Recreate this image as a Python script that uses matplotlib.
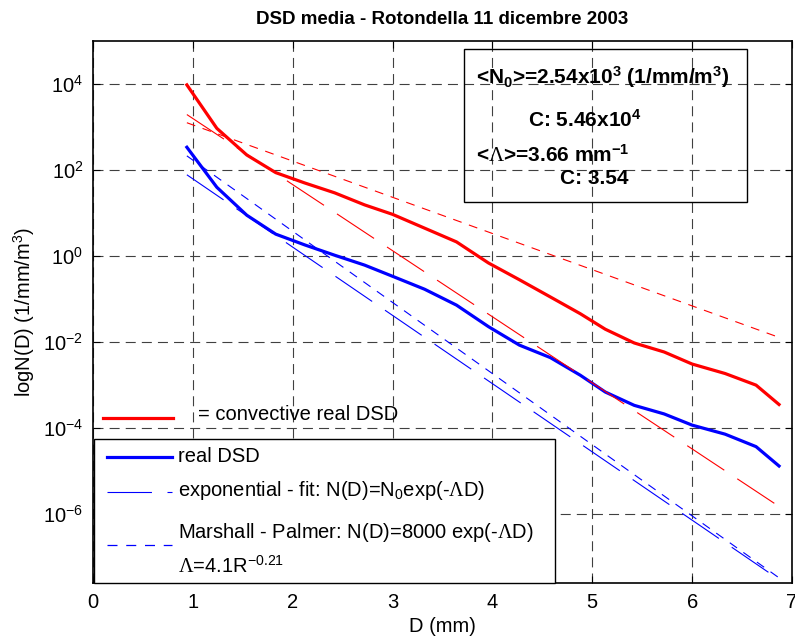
import numpy as np
import matplotlib
matplotlib.use('Agg')
import matplotlib.pyplot as plt
from matplotlib.lines import Line2D
from matplotlib.patches import Rectangle

plt.rcParams['font.family'] = ['Liberation Sans', 'DejaVu Sans']
plt.rcParams['mathtext.fontset'] = 'custom'
plt.rcParams['mathtext.rm'] = 'Liberation Sans'
plt.rcParams['mathtext.it'] = 'Liberation Sans:italic'
plt.rcParams['mathtext.bf'] = 'Liberation Sans:bold'
plt.rcParams['mathtext.cal'] = 'Liberation Serif'

# diameters of the classes (mm)
D = [0.94, 1.24, 1.54, 1.83, 2.12, 2.42, 2.72, 3.00, 3.32, 3.64, 3.96,
     4.27, 4.58, 4.88, 5.13, 5.42, 5.72, 6.00, 6.33, 6.64, 6.87]

# log10 N(D)
log_conv = [3.98, 2.97, 2.35, 1.94, 1.70, 1.47, 1.19, 0.97, 0.65, 0.33, -0.16,
            -0.55, -0.95, -1.34, -1.70, -2.02, -2.23, -2.51, -2.73, -3.00, -3.45]
log_mean = [2.53, 1.60, 0.95, 0.51, 0.26, 0.02, -0.21, -0.47, -0.77, -1.14, -1.64,
            -2.07, -2.36, -2.77, -3.16, -3.47, -3.67, -3.93, -4.14, -4.43, -4.88]

# end points of the straight fits (log10 N at first and last class)
D_fit = [0.94, 6.87]
log_fit_mean = [1.89, -7.52]
log_mp_mean = [2.33, -7.48]
log_fit_conv = [3.29, -5.82]
log_mp_conv = [3.10, -1.89]

conv = 10.0 ** np.array(log_conv)
mean = 10.0 ** np.array(log_mean)

W, H = 795, 641
fig = plt.figure(figsize=(W / 100, H / 100), dpi=100)
ax = fig.add_axes([93 / W, 1 - 583 / H, (792 - 93) / W, 542 / H])

def fx(px):
    return px / W

def fy(py):
    return 1 - py / H

fit_ls = (0, (40, 14))
mp_ls = (0, (8, 7))

ax.semilogy(D, conv, color='#ff0000', lw=2.3, solid_joinstyle='round')
ax.semilogy(D, mean, color='#0000ff', lw=2.3, solid_joinstyle='round')
ax.semilogy(D_fit, 10.0 ** np.array(log_fit_conv), color='#ff0000', lw=0.8, ls=fit_ls)
ax.semilogy(D_fit, 10.0 ** np.array(log_mp_conv), color='#ff0000', lw=0.8, ls=mp_ls)
ax.semilogy(D_fit, 10.0 ** np.array(log_fit_mean), color='#0000ff', lw=0.8, ls=fit_ls)
ax.semilogy(D_fit, 10.0 ** np.array(log_mp_mean), color='#0000ff', lw=0.8, ls=mp_ls)

ax.set_xlim(0, 7)
ax.set_ylim(10 ** -7.6, 1e5)
ax.set_xticks(range(0, 8))
ax.set_yticks([1e-6, 1e-4, 1e-2, 1e0, 1e2, 1e4])
ax.minorticks_off()
ax.tick_params(direction='in', length=5, width=0.8, top=True, right=True,
               labelsize=14.5, pad=7)
ax.grid(True, color='0.25', lw=0.8, ls=(0, (9, 5.5)))
for s in ax.spines.values():
    s.set_linewidth(1.2)

ax.set_title('DSD media - Rotondella 11 dicembre 2003', fontsize=13.5,
             fontweight='bold', pad=12)
ax.set_xlabel('D (mm)', fontsize=14.5, labelpad=4)
ax.set_ylabel('logN(D) (1/mm/m$^3$)', fontsize=14.5)
ax.yaxis.set_label_coords(-0.08, 0.5)

# annotation box
fig.add_artist(Rectangle((fx(464), fy(202)), fx(747) - fx(464), fy(49) - fy(202),
                         fill=False, ec='black', lw=1.0, transform=fig.transFigure))
fs = 14.5
fig.text(fx(476), fy(77), r'<N$_\mathbf{0}$>=2.54x10$^\mathbf{3}$ (1/mm/m$^\mathbf{3}$)',
         fontsize=15, fontweight='bold', va='center')
fig.text(fx(528), fy(120), r'C: 5.46x10$^\mathbf{4}$', fontsize=15,
         fontweight='bold', va='center')
fig.text(fx(476), fy(155), r'<$\mathcal{\Lambda}$>=3.66 mm$^\mathbf{-1}$', fontsize=15,
         fontweight='bold', va='center')
fig.text(fx(560), fy(178), 'C: 3.54', fontsize=15, fontweight='bold', va='center')

# convective legend (red)
fig.add_artist(Line2D([fx(103), fx(173)], [fy(418), fy(418)], color='#ff0000',
                      lw=2.3, transform=fig.transFigure))
fig.text(fx(198), fy(415), '= convective real DSD', fontsize=fs, va='center')

# main legend
fig.add_artist(Rectangle((fx(94), fy(583)), fx(555) - fx(94), fy(439) - fy(583),
                         fc='white', ec='black', lw=1.0, transform=fig.transFigure))
fig.add_artist(Line2D([fx(107), fx(172)], [fy(457), fy(457)], color='#0000ff',
                      lw=2.3, transform=fig.transFigure))
fig.text(fx(178), fy(457), 'real DSD', fontsize=fs, va='center')
fig.add_artist(Line2D([fx(107), fx(172)], [fy(492), fy(492)], color='#0000ff',
                      lw=0.8, ls=fit_ls, transform=fig.transFigure))
fig.text(fx(178), fy(490), r'exponential - fit: N(D)=N$_0$exp(-$\mathcal{\Lambda}$D)',
         fontsize=fs, va='center')
fig.add_artist(Line2D([fx(107), fx(172)], [fy(545), fy(545)], color='#0000ff',
                      lw=0.9, ls=mp_ls, transform=fig.transFigure))
fig.text(fx(178), fy(533), r'Marshall - Palmer: N(D)=8000 exp(-$\mathcal{\Lambda}$D)',
         fontsize=fs, va='center')
fig.text(fx(178), fy(566), r'$\mathcal{\Lambda}$=4.1R$^{-0.21}$', fontsize=fs, va='center')

fig.savefig('out.png', dpi=100)
